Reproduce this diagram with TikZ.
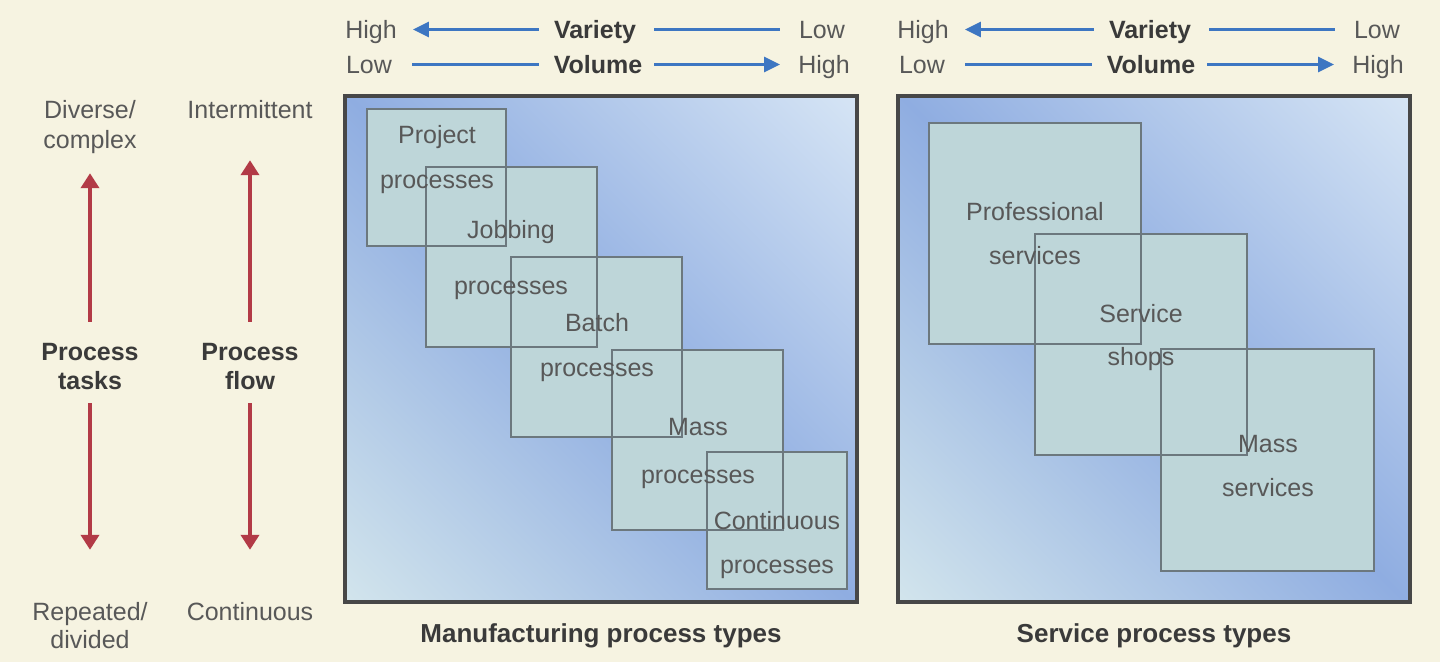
\documentclass[tikz,border=0pt]{standalone}
\usepackage{fontspec}
\setmainfont{Liberation Sans}
\usetikzlibrary{arrows.meta}
\definecolor{bg}{HTML}{F6F3E1}
\definecolor{txt}{HTML}{585858}
\definecolor{txtb}{HTML}{3A3A3A}
\definecolor{blu}{HTML}{3D76C2}
\definecolor{redar}{HTML}{B23A46}
\definecolor{boxfill}{HTML}{BED6D9}
\definecolor{boxline}{HTML}{6C787E}
\definecolor{panelline}{HTML}{474747}
\definecolor{gtr}{HTML}{DAE8F6}
\definecolor{gmid}{HTML}{8FADE1}
\definecolor{gbl}{HTML}{D6E8ED}
\begin{document}
\begin{tikzpicture}[x=1pt,y=-1pt,
  lbl/.style={font=\fontsize{25}{30}\selectfont, text=txt, inner sep=0pt, text height=18pt, text depth=5pt},
  lblb/.style={font=\bfseries\fontsize{25}{30}\selectfont, text=txtb, inner sep=0pt, text height=18pt, text depth=5pt},
  hdr/.style={lbl, text depth=0pt},
  hdrb/.style={lblb, text depth=0pt},
  captionlbl/.style={lblb, font=\bfseries\fontsize{26}{30}\selectfont},
  bluearr/.style={draw=blu, line width=3pt},
  bluetip/.style={bluearr, -{Triangle[length=16pt,width=15pt]}},
  redarrow/.style={draw=redar, line width=4pt, -{Triangle[length=15pt,width=18pt]}},
  pbox/.style={draw=boxline, line width=2pt},
  panel/.style={draw=panelline, line width=3.5pt}]
\fill[bg] (0,0) rectangle (1440,662);
\useasboundingbox (0,0) rectangle (1440,662);

% panel gradients
\begin{scope}
  \clip (345,96) rectangle (857,602);
  \begin{scope}[transform canvas={rotate around={-45:(601,349)}}]
    \shade[top color=gtr, bottom color=gbl, middle color=gmid] (221,-31) rectangle (981,729);
  \end{scope}
\end{scope}
\begin{scope}
  \clip (898,96) rectangle (1410,602);
  \begin{scope}[transform canvas={rotate around={-45:(1154,349)}}]
    \shade[top color=gtr, bottom color=gbl, middle color=gmid] (774,-31) rectangle (1534,729);
  \end{scope}
\end{scope}

% box fills
\foreach \a/\b/\c/\d in {367/109/506/246, 426/167/597/347, 511/257/682/437, 612/350/783/530, 707/452/847/589,
  929/123/1141/344, 1035/234/1247/455, 1161/349/1374/571}
  \fill[boxfill] (\a,\b) rectangle (\c,\d);
\foreach \a/\b/\c/\d in {367/109/506/246, 426/167/597/347, 511/257/682/437, 612/350/783/530, 707/452/847/589,
  929/123/1141/344, 1035/234/1247/455, 1161/349/1374/571}
  \draw[pbox] (\a,\b) rectangle (\c,\d);
\draw[panel] (345,96) rectangle (857,602);
\draw[panel] (898,96) rectangle (1410,602);

% box labels
\node[lbl] (proj1) at (437,137) {Project};
\node[lbl] (proj2) at (437,182) {processes};
\node[lbl] (job1) at (511,232) {Jobbing};
\node[lbl] (job2) at (511,288) {processes};
\node[lbl] (bat1) at (597,325) {Batch};
\node[lbl] (bat2) at (597,370) {processes};
\node[lbl] (mas1) at (698,429) {Mass};
\node[lbl] (mas2) at (698,477) {processes};
\node[lbl] (con1) at (777,523) {Continuous};
\node[lbl] (con2) at (777,567) {processes};
\node[lbl] (prof1) at (1035,214) {Professional};
\node[lbl] (prof2) at (1035,258) {services};
\node[lbl] (shop1) at (1141,316) {Service};
\node[lbl] (shop2) at (1141,359) {shops};
\node[lbl] (msv1) at (1268,446) {Mass};
\node[lbl] (msv2) at (1268,490) {services};

% header left
\node[hdr] (hA) at (371,29.5) {High};
\node[hdrb] (vA) at (595,29.5) {Variety};
\node[hdr] (lA) at (822,29.5) {Low};
\node[hdr] (lB) at (369,64.5) {Low};
\node[hdrb] (wB) at (598,64.5) {Volume};
\node[hdr] (hB) at (824,64.5) {High};
\draw[bluetip, shorten <=15pt, shorten >=16pt] (vA.west) -- (hA.east);
\draw[bluearr, shorten <=18pt, shorten >=19pt] (vA.east) -- (lA.west);
\draw[bluearr, shorten <=20pt, shorten >=15pt] (lB.east) -- (wB.west);
\draw[bluetip, shorten <=12pt, shorten >=18pt] (wB.east) -- (hB.west);

% header right
\node[hdr] (hC) at (923,29.5) {High};
\node[hdrb] (vC) at (1150,29.5) {Variety};
\node[hdr] (lC) at (1377,29.5) {Low};
\node[hdr] (lD) at (922,64.5) {Low};
\node[hdrb] (wD) at (1151,64.5) {Volume};
\node[hdr] (hD) at (1378,64.5) {High};
\draw[bluetip, shorten <=15pt, shorten >=16pt] (vC.west) -- (hC.east);
\draw[bluearr, shorten <=18pt, shorten >=19pt] (vC.east) -- (lC.west);
\draw[bluearr, shorten <=20pt, shorten >=15pt] (lD.east) -- (wD.west);
\draw[bluetip, shorten <=12pt, shorten >=18pt] (wD.east) -- (hD.west);

% left side
\node[lbl] (dc1) at (90,112) {Diverse/};
\node[lbl] (dc2) at (90,142) {complex};
\node[lbl] (inter) at (250,112) {Intermittent};
\node[lblb] (pt1) at (90,354) {Process};
\node[lblb] (pt2) at (90,383) {tasks};
\node[lblb] (pf1) at (250,354) {Process};
\node[lblb] (pf2) at (250,383) {flow};
\node[lbl] (rd1) at (90,614) {Repeated/};
\node[lbl] (rd2) at (90,642) {divided};
\node[lbl] (cont) at (250,614) {Continuous};
\draw[redarrow, shorten <=20.5pt, shorten >=19.5pt] (pt1.north) -- (dc2.south);
\draw[redarrow, shorten <=20.5pt, shorten >=36.5pt] (pf1.north) -- (inter.south);
\draw[redarrow, shorten <=8.5pt, shorten >=52.5pt] (pt2.south) -- (rd1.north);
\draw[redarrow, shorten <=8.5pt, shorten >=52.5pt] (pf2.south) -- (cont.north);

% captions
\node[captionlbl] (capM) at (601,636) {Manufacturing process types};
\node[captionlbl] (capS) at (1154,636) {Service process types};
\end{tikzpicture}
\end{document}
